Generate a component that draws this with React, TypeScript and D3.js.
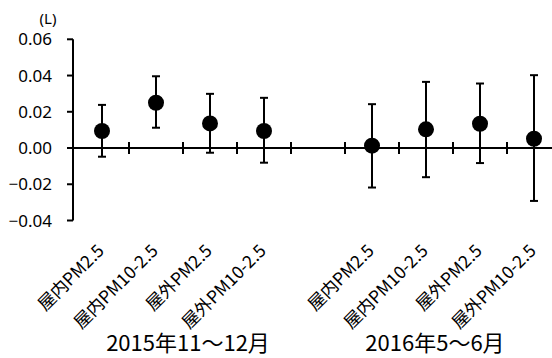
import { useRef, useEffect } from "react";
import * as d3 from "d3";

// categories (one empty slot between the two periods)
const categories = [
  "屋内PM2.5", "屋内PM10-2.5", "屋外PM2.5", "屋外PM10-2.5", "",
  "屋内PM2.5", "屋内PM10-2.5", "屋外PM2.5", "屋外PM10-2.5",
];
const means = [0.0094, 0.025, 0.0136, 0.0094, null, 0.0013, 0.0103, 0.0134, 0.0051];
const upper = [0.0238, 0.0396, 0.0299, 0.0277, null, 0.0242, 0.0365, 0.0356, 0.0402];
const lower = [-0.0048, 0.0112, -0.0026, -0.0081, null, -0.0218, -0.0161, -0.0083, -0.0292];
const yTicks = [-0.04, -0.02, 0, 0.02, 0.04, 0.06];
const groupLabels = ["2015年11〜12月", "2016年5〜6月"];

const App = () => {
  const svgRef = useRef(null);
  const width = 552;
  const height = 358;

  useEffect(() => {
    document.body.style.margin = "0";
    const svg = d3.select(svgRef.current);
    svg.selectAll("*").remove();

    const x = d3.scaleBand()
      .domain(categories.map((_, i) => String(i)))
      .range([75, 561])
      .padding(0);

    const y = d3.scaleLinear()
      .domain([-0.04, 0.06])
      .range([220.5, 39.3]);

    const cx = (i) => x(String(i)) + x.bandwidth() / 2;

    // y axis
    svg.append("line")
      .attr("x1", 73).attr("x2", 73)
      .attr("y1", y(0.06)).attr("y2", y(-0.04))
      .attr("stroke", "#000").attr("stroke-width", 2);

    svg.selectAll(".ytick")
      .data(yTicks)
      .enter()
      .append("line")
      .attr("x1", 67).attr("x2", 73)
      .attr("y1", d => y(d)).attr("y2", d => y(d))
      .attr("stroke", "#000").attr("stroke-width", 2);

    svg.selectAll(".ylabel")
      .data(yTicks)
      .enter()
      .append("text")
      .attr("x", 52)
      .attr("y", d => y(d))
      .attr("dy", "0.36em")
      .attr("text-anchor", "end")
      .attr("font-family", "'Noto Sans', sans-serif")
      .attr("font-size", 17)
      .text(d => d3.format(".2f")(d));

    svg.append("text")
      .attr("x", 48).attr("y", 24)
      .attr("text-anchor", "middle")
      .attr("font-family", "'Noto Sans', sans-serif")
      .attr("font-size", 15)
      .text("(L)");

    // x axis
    svg.append("line")
      .attr("x1", 72).attr("x2", width)
      .attr("y1", y(0)).attr("y2", y(0))
      .attr("stroke", "#000").attr("stroke-width", 2);

    svg.selectAll(".xtick")
      .data(categories.slice(1))
      .enter()
      .append("line")
      .attr("x1", (_, i) => x(String(i + 1)))
      .attr("x2", (_, i) => x(String(i + 1)))
      .attr("y1", y(0) - 6).attr("y2", y(0) + 6)
      .attr("stroke", "#000").attr("stroke-width", 2);

    // rotated category labels
    svg.selectAll(".xlabel")
      .data(categories)
      .enter()
      .append("text")
      .attr("transform", (_, i) => `translate(${cx(i) + 3},252) rotate(-45)`)
      .attr("text-anchor", "end")
      .attr("font-family", "'Noto Sans CJK JP', sans-serif")
      .attr("font-size", 17.5)
      .text(d => d);

    // group labels
    svg.selectAll(".glabel")
      .data(groupLabels)
      .enter()
      .append("text")
      .attr("x", (_, i) => (i === 0 ? 188 : 435))
      .attr("y", 351)
      .attr("text-anchor", "middle")
      .attr("font-family", "'Noto Sans CJK JP', sans-serif")
      .attr("font-size", 22)
      .text(d => d);

    const idx = categories.map((_, i) => i).filter(i => means[i] !== null);

    // error bars
    const eb = svg.selectAll(".err").data(idx).enter().append("g");
    eb.append("line")
      .attr("x1", i => cx(i)).attr("x2", i => cx(i))
      .attr("y1", i => y(upper[i])).attr("y2", i => y(lower[i]))
      .attr("stroke", "#000").attr("stroke-width", 2);
    eb.append("line")
      .attr("x1", i => cx(i) - 4).attr("x2", i => cx(i) + 4)
      .attr("y1", i => y(upper[i])).attr("y2", i => y(upper[i]))
      .attr("stroke", "#000").attr("stroke-width", 2);
    eb.append("line")
      .attr("x1", i => cx(i) - 4).attr("x2", i => cx(i) + 4)
      .attr("y1", i => y(lower[i])).attr("y2", i => y(lower[i]))
      .attr("stroke", "#000").attr("stroke-width", 2);

    // points
    svg.selectAll(".pt")
      .data(idx)
      .enter()
      .append("circle")
      .attr("cx", i => cx(i))
      .attr("cy", i => y(means[i]))
      .attr("r", 8)
      .attr("fill", "#000");
  }, []);

  return (
    <svg ref={svgRef} width={width} height={height} style={{ display: "block", background: "#fff" }}></svg>
  );
};

export default App;
